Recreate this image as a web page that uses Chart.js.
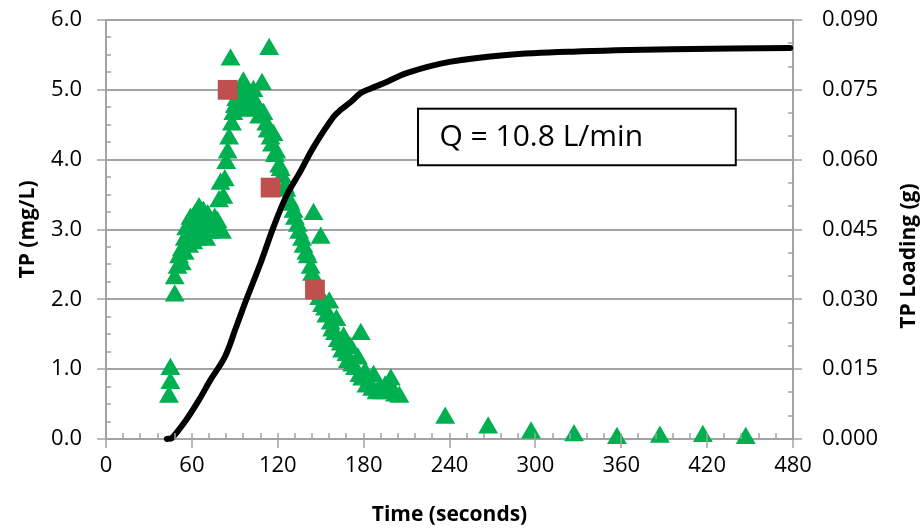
<!DOCTYPE html>
<html lang="en">
<head>
  <meta charset="UTF-8">
  <title>TP vs Time</title>
  <script src="https://cdn.jsdelivr.net/npm/chart.js"></script>
  <style>
    html, body { margin: 0; padding: 0; background: #fff; }
    #wrap { width: 921px; height: 529px; }
  </style>
</head>
<body>
  <div id="wrap"><canvas id="tpChart"></canvas></div>

  <script>
    // TP concentration samples (triangles)
    const tpTime = [44, 45, 45, 48, 48, 50, 51, 53, 53, 55, 55, 56, 58, 58, 59, 61, 61, 62, 64, 64, 65, 67, 67, 68, 70, 70, 71, 73, 73, 76, 76, 78, 79, 80, 81, 82, 83, 84, 85, 86, 87, 88, 89, 90, 91, 93, 94, 96, 97, 98, 99, 100, 102, 103, 104, 106, 107, 109, 110, 112, 114, 113, 115, 116, 117, 118, 119, 121, 122, 123, 125, 126, 128, 129, 131, 132, 134, 135, 137, 138, 140, 141, 143, 145, 144, 146, 148, 150, 149, 151, 153, 154, 156, 157, 158, 160, 161, 162, 164, 165, 166, 168, 169, 171, 172, 174, 176, 178, 177, 179, 181, 182, 184, 186, 187, 189, 191, 193, 195, 197, 199, 200, 202, 205, 237, 267, 297, 327, 357, 387, 417, 447];
    const tpConc = [0.6, 0.8, 1.0, 2.05, 2.3, 2.45, 2.6, 2.5, 2.7, 2.65, 2.85, 3.0, 2.75, 2.95, 3.15, 2.8, 3.0, 3.2, 2.85, 3.05, 3.3, 2.9, 3.1, 3.25, 2.85, 3.05, 3.2, 2.95, 3.1, 3.0, 3.15, 3.1, 3.4, 3.65, 2.95, 3.45, 3.7, 3.95, 4.1, 4.3, 5.43, 4.5, 4.65, 4.75, 4.85, 4.7, 4.95, 5.1, 4.8, 4.7, 4.95, 4.75, 4.85, 4.98, 4.7, 4.75, 4.6, 5.08, 4.65, 4.5, 5.58, 4.4, 4.3, 4.2, 4.35, 4.05, 4.1, 3.9, 3.85, 3.75, 3.6, 3.55, 3.4, 3.35, 3.25, 3.15, 3.05, 2.95, 2.85, 2.75, 2.65, 2.6, 2.45, 3.22, 2.35, 2.25, 2.1, 2.88, 2.0, 1.9, 1.85, 1.75, 1.95, 1.65, 1.55, 1.5, 1.7, 1.4, 1.35, 1.25, 1.45, 1.2, 1.1, 1.3, 1.05, 1.0, 1.15, 1.5, 0.9, 0.85, 0.95, 0.75, 0.8, 0.7, 0.9, 0.65, 0.7, 0.65, 0.75, 0.68, 0.85, 0.7, 0.62, 0.6, 0.3, 0.16, 0.09, 0.05, 0.01, 0.03, 0.04, 0.01];

    // grab samples (squares)
    const grabTime = [85, 115, 146];
    const grabConc = [5.0, 3.6, 2.14];

    // cumulative TP loading (right axis)
    const loadTime = [42.5, 46, 56, 65, 73, 83, 91, 98, 108, 117, 126, 136, 145, 159, 164, 171, 178, 185, 194, 210, 240, 280, 326, 396, 478];
    const loadMass = [0, 0.0002, 0.0041, 0.0084, 0.0127, 0.0176, 0.0241, 0.0299, 0.0378, 0.0455, 0.0522, 0.0576, 0.0627, 0.0692, 0.0707, 0.0724, 0.0743, 0.0753, 0.0764, 0.0786, 0.0810, 0.0825, 0.0832, 0.0837, 0.0840];

    const xTicks = { min: 0, max: 480, major: 60, minor: 12 };
    const yTicks = { min: 0, max: 6, major: 1, minor: 0.25 };
    const y2Ticks = { min: 0, max: 0.09, major: 0.015, minor: 0.005 };

    const boxLabel = "Q = 10.8 L/min";
    const rightTitle = "TP Loading (g)";

    const GRAY = "#a3a3a3";
    const FONT = "'Open Sans', sans-serif";

    const toPoints = (xs, ys) => xs.map((x, i) => ({ x, y: ys[i] }));

    // minor / major tick marks like Excel, text box, right axis title
    const tickPlugin = {
      id: "ticks",
      afterDraw(chart) {
        const ctx = chart.ctx;
        const { x, y, y2 } = chart.scales;
        ctx.save();
        ctx.strokeStyle = GRAY;
        ctx.lineWidth = 1.5;
        ctx.beginPath();
        for (let v = xTicks.min; v <= xTicks.max + 1e-9; v += xTicks.minor) {
          const px = Math.round(x.getPixelForValue(v));
          const isMajor = Math.abs(v % xTicks.major) < 1e-6;
          ctx.moveTo(px, y.bottom - 6);
          ctx.lineTo(px, y.bottom + (isMajor ? 9 : 0));
        }
        for (let i = 0; i <= Math.round((yTicks.max - yTicks.min) / yTicks.minor); i++) {
          const v = yTicks.min + i * yTicks.minor;
          const py = Math.round(y.getPixelForValue(v));
          const isMajor = i % Math.round(yTicks.major / yTicks.minor) === 0;
          ctx.moveTo(x.left - (isMajor ? 9 : 0), py);
          ctx.lineTo(x.left + 5, py);
        }
        for (let i = 0; i <= Math.round((y2Ticks.max - y2Ticks.min) / y2Ticks.minor); i++) {
          const v = y2Ticks.min + i * y2Ticks.minor;
          const py = Math.round(y2.getPixelForValue(v));
          const isMajor = i % Math.round(y2Ticks.major / y2Ticks.minor) === 0;
          ctx.moveTo(x.right - 5, py);
          ctx.lineTo(x.right + (isMajor ? 9 : 0), py);
        }
        ctx.stroke();

        // text box with flow rate
        const bx1 = x.getPixelForValue(218), bx2 = x.getPixelForValue(440);
        const by1 = y.getPixelForValue(4.73), by2 = y.getPixelForValue(3.92);
        ctx.fillStyle = "#fff";
        ctx.fillRect(bx1, by1, bx2 - bx1, by2 - by1);
        ctx.strokeStyle = "#000";
        ctx.lineWidth = 2;
        ctx.strokeRect(bx1, by1, bx2 - bx1, by2 - by1);
        ctx.fillStyle = "#000";
        ctx.font = "30px " + FONT;
        ctx.textBaseline = "middle";
        ctx.fillText(boxLabel, x.getPixelForValue(233), (by1 + by2) / 2);

        // right axis title, reads bottom to top, a bit below centre
        ctx.font = "bold 21px " + FONT;
        ctx.textAlign = "center";
        ctx.translate(y2.right - 12, y.getPixelForValue(2.62));
        ctx.rotate(-Math.PI / 2);
        ctx.fillText(rightTitle, 0, 0);
        ctx.restore();
      }
    };

    const noVPad = s => { s.paddingTop = 0; s.paddingBottom = 0; };

    new Chart(document.getElementById("tpChart"), {
      type: "scatter",
      data: {
        datasets: [
          {
            type: "line",
            label: "TP Loading",
            data: toPoints(loadTime, loadMass),
            yAxisID: "y2",
            borderColor: "#000",
            borderWidth: 6,
            borderCapStyle: "round",
            borderJoinStyle: "round",
            pointRadius: 0,
            tension: 0.35,
            fill: false,
            clip: false
          },
          {
            label: "Grab",
            data: toPoints(grabTime, grabConc),
            yAxisID: "y",
            pointStyle: "rect",
            pointRadius: 14,
            backgroundColor: "#c0504d",
            borderColor: "#c0504d",
            borderWidth: 0,
            clip: false
          },
          {
            label: "TP",
            data: toPoints(tpTime, tpConc),
            yAxisID: "y",
            pointStyle: "triangle",
            pointRadius: 11.5,
            backgroundColor: "#00b050",
            borderColor: "#00b050",
            borderWidth: 0,
            clip: false
          }
        ]
      },
      options: {
        responsive: true,
        maintainAspectRatio: false,
        animation: false,
        layout: { padding: { top: 20, left: 0, right: 0, bottom: 0 } },
        plugins: {
          legend: { display: false },
          tooltip: { enabled: false }
        },
        scales: {
          x: {
            type: "linear",
            min: xTicks.min,
            max: xTicks.max,
            afterFit: s => { s.height = 90; s.paddingLeft = 0; s.paddingRight = 0; },
            ticks: {
              stepSize: xTicks.major,
              padding: 14,
              color: "#000",
              font: { family: FONT, size: 22 }
            },
            grid: { display: true, drawOnChartArea: false, drawTicks: false, color: GRAY },
            border: { display: true, color: GRAY, width: 2 },
            title: {
              display: true,
              text: "Time (seconds)",
              color: "#000",
              font: { family: FONT, size: 21, weight: "bold" },
              padding: { top: 0, bottom: 1 }
            }
          },
          y: {
            position: "left",
            min: yTicks.min,
            max: yTicks.max,
            afterFit: s => { s.width = 106; noVPad(s); },
            ticks: {
              stepSize: yTicks.major,
              padding: 24,
              color: "#000",
              font: { family: FONT, size: 22 },
              callback: v => Number(v).toFixed(1)
            },
            grid: { color: GRAY, lineWidth: 2, drawTicks: false },
            border: { display: true, color: GRAY, width: 2 },
            title: {
              display: true,
              text: "TP (mg/L)",
              color: "#000",
              font: { family: FONT, size: 21, weight: "bold" },
              padding: { top: 15, bottom: 0 }
            }
          },
          y2: {
            position: "right",
            min: y2Ticks.min,
            max: y2Ticks.max,
            afterFit: s => { s.width = 128; noVPad(s); },
            ticks: {
              stepSize: y2Ticks.major,
              padding: 29,
              color: "#000",
              font: { family: FONT, size: 22 },
              callback: v => Number(v).toFixed(3)
            },
            grid: { display: true, drawOnChartArea: false, drawTicks: false, color: GRAY },
            border: { display: true, color: GRAY, width: 2 },
            title: { display: false }
          }
        }
      },
      plugins: [tickPlugin]
    });
  </script>
</body>
</html>
